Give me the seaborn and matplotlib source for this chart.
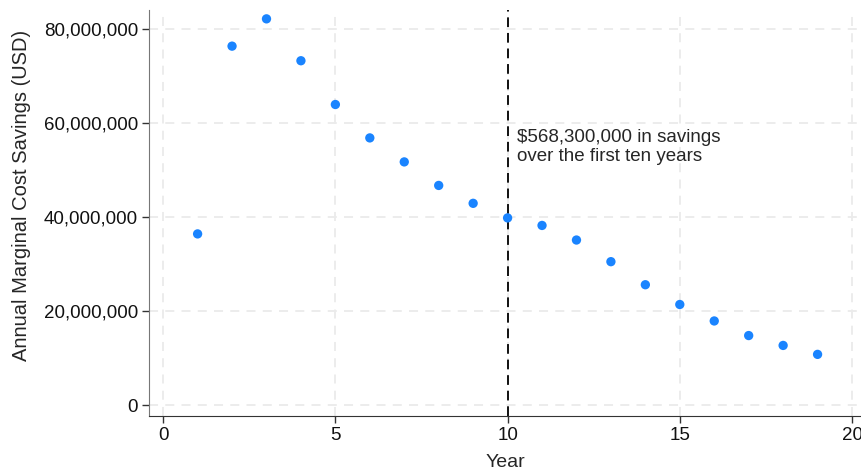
import numpy as np
import pandas as pd
import seaborn as sns
import matplotlib
matplotlib.use("Agg")
from matplotlib import pyplot as plt
from matplotlib.ticker import FuncFormatter

# values
years = list(range(1, 20))
savings = [36.4, 76.3, 82.1, 73.2, 63.9, 56.8, 51.7, 46.7, 42.9, 39.8,
           38.2, 35.1, 30.5, 25.6, 21.4, 17.9, 14.8, 12.7, 10.8]  # millions USD
x_ticks = [0, 5, 10, 15, 20]
y_ticks = [0, 20e6, 40e6, 60e6, 80e6]
cutoff_year = 10
note = "$568,300,000 in savings\nover the first ten years"

df = pd.DataFrame({"Year": years, "Savings": np.array(savings) * 1e6})

sns.set_style("white")
plt.rcParams["font.family"] = ["Liberation Sans", "DejaVu Sans"]

fig = plt.figure(figsize=(8.62, 4.72), dpi=100)
ax = fig.add_axes([0.1729, 0.1186, 0.8271, 0.8604])

ax.set_axisbelow(True)
ax.grid(True, linestyle=(0, (5, 4)), color="#ebebeb", linewidth=1.3)

sns.scatterplot(data=df, x="Year", y="Savings", ax=ax, color="#1a84ff",
                s=45, edgecolor="none", zorder=3)

ax.axvline(cutoff_year, color="#111111", linestyle=(0, (5, 3)), linewidth=1.4, zorder=2)
ax.text(10.27, 54.9e6, note, fontsize=13.5, va="center", ha="left", linespacing=1.2)

ax.set_xlim(-0.41, 20.29)
ax.set_ylim(-2.3e6, 84e6)
ax.set_xticks(x_ticks)
ax.set_yticks(y_ticks)
ax.yaxis.set_major_formatter(FuncFormatter(lambda v, p: f"{int(v):,}"))

ax.set_xlabel("Year", fontsize=14, labelpad=7)
ax.set_ylabel("Annual Marginal Cost Savings (USD)", fontsize=14.5)
ax.yaxis.set_label_coords(-0.166, 0.542)
ax.tick_params(axis="both", labelsize=13.5, length=5, width=1, color="#333333",
               labelcolor="#111111", direction="out", left=True, bottom=True, pad=3)

for side in ["top", "right"]:
    ax.spines[side].set_visible(False)
ax.spines["left"].set_color("#777777")
ax.spines["bottom"].set_color("#333333")

fig.savefig("out.png", dpi=100)
